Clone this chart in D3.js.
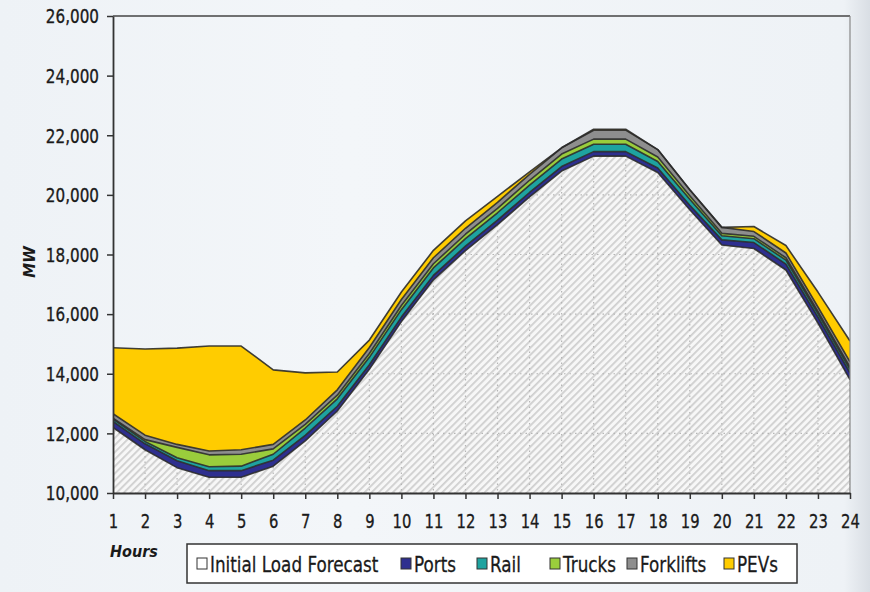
<!DOCTYPE html>
<html>
<head>
<meta charset="utf-8">
<script src="https://cdn.jsdelivr.net/npm/d3@7"></script>
<style>
  html, body { margin: 0; padding: 0; background: #eef2f6; }
  svg { display: block; }
  text { font-family: "DejaVu Sans", Verdana, sans-serif; fill: #1a1a1a; }
</style>
</head>
<body>
<svg id="chart" width="870" height="592"></svg>
<script>
// ---------- data ----------
const hours = [1,2,3,4,5,6,7,8,9,10,11,12,13,14,15,16,17,18,19,20,21,22,23,24];
const yTicks = [10000,12000,14000,16000,18000,20000,22000,24000,26000];
const seriesNames = ["Initial Load Forecast","Ports","Rail","Trucks","Forklifts","PEVs"];
const initialLoad = [12200,11450,10850,10530,10530,10900,11750,12750,14150,15750,17150,18130,19000,19930,20800,21300,21300,20750,19500,18320,18200,17480,15700,13800];
const ports       = [200,200,230,220,220,200,180,160,150,150,150,150,150,150,150,150,150,150,150,170,200,200,200,230];
const rail        = [80,80,100,130,150,200,250,250,250,250,250,250,250,250,250,250,250,220,200,140,130,130,120,120];
const trucks      = [30,60,350,400,400,180,120,120,130,140,140,150,150,160,170,170,170,150,120,80,80,80,70,70];
const forklifts   = [150,150,100,130,150,150,150,180,200,200,200,200,200,200,210,300,300,250,200,200,160,160,150,180];
const pevs        = [2210,2890,3230,3520,3480,2500,1580,600,250,250,250,250,200,80,0,30,30,0,0,0,170,250,500,700];

const colors = ["url(#hatch)","#2e2f8f","#1ea3a0","#9acd3c","#8e8e8e","#ffcc00"];
const swatchColors = ["#ffffff","#2e2f8f","#1ea3a0","#9acd3c","#8e8e8e","#ffcc00"];

(function () {
// ---------- build table ----------
const seriesArrays = [initialLoad, ports, rail, trucks, forklifts, pevs];
const table = hours.map((h, i) => {
  const row = { hour: h };
  seriesNames.forEach((k, j) => row[k] = seriesArrays[j][i]);
  return row;
});

const svg = d3.select("#chart");
const pL = 113, pR = 850, pT = 16, pB = 493;
const x = d3.scaleLinear().domain([1, 24]).range([pL, pR]);
const y = d3.scaleLinear().domain([10000, 26000]).range([pB, pT]);
const SX = 0.8; // horizontal compression of text

// background
const defs = svg.append("defs");
const bg = defs.append("linearGradient").attr("id","bg").attr("x1","0").attr("x2","1").attr("y1","0").attr("y2","0");
bg.append("stop").attr("offset","0%").attr("stop-color","#eef2f6");
bg.append("stop").attr("offset","40%").attr("stop-color","#f3f6f9");
bg.append("stop").attr("offset","97%").attr("stop-color","#eef2f6");
bg.append("stop").attr("offset","100%").attr("stop-color","#d9dee4");
svg.append("rect").attr("width",870).attr("height",592).attr("fill","url(#bg)");

// hatch pattern
const pat = defs.append("pattern").attr("id","hatch").attr("patternUnits","userSpaceOnUse")
  .attr("width",5).attr("height",5).attr("patternTransform","rotate(45)");
pat.append("rect").attr("width",5).attr("height",5).attr("fill","#f7f7f7");
pat.append("rect").attr("x",0).attr("y",0).attr("width",1.8).attr("height",5).attr("fill","#cfcfcf");

// stack
const stack = d3.stack().keys(seriesNames);
const layers = stack(table);

const area = d3.area()
  .x(d => x(d.data.hour))
  .y0(d => y(d[0]))
  .y1(d => y(d[1]));
const topLine = d3.line().x(d => x(d.data.hour)).y(d => y(d[1]));

// clip for plot
defs.append("clipPath").attr("id","plotclip").append("rect")
  .attr("x",pL).attr("y",pT).attr("width",pR-pL).attr("height",pB-pT);

// clip for grid inside initial-load area
const initArea = d3.area().x(d => x(d.data.hour)).y0(pB).y1(d => y(d[1]));
defs.append("clipPath").attr("id","initclip").append("path").attr("d", initArea(layers[0]));

const plot = svg.append("g").attr("clip-path","url(#plotclip)");

plot.selectAll("path.layer").data(layers).join("path")
  .attr("class","layer")
  .attr("d", (d) => area(d))
  .attr("fill", (d, i) => colors[i]);

// dotted gridlines visible only through the hatched area
const grid = plot.append("g").attr("clip-path","url(#initclip)");
grid.selectAll("line.h").data(yTicks).join("line")
  .attr("x1",pL).attr("x2",pR).attr("y1",d=>y(d)).attr("y2",d=>y(d))
  .attr("stroke","#b5b5b5").attr("stroke-width",1.2).attr("stroke-dasharray","1.5,4");
grid.selectAll("line.v").data(hours).join("line")
  .attr("x1",d=>x(d)).attr("x2",d=>x(d)).attr("y1",pT).attr("y2",pB)
  .attr("stroke","#b5b5b5").attr("stroke-width",1.2).attr("stroke-dasharray","1.5,4");

// outlines of each layer's top
plot.selectAll("path.outline").data(layers).join("path")
  .attr("class","outline")
  .attr("d", d => topLine(d))
  .attr("fill","none")
  .attr("stroke","#2b2b2b")
  .attr("stroke-width",1.6)
  .attr("stroke-linejoin","round")
  .attr("opacity", 0.9);

// frame: top and right
svg.append("line").attr("x1",pL).attr("x2",pR).attr("y1",pT).attr("y2",pT)
  .attr("stroke","#444").attr("stroke-width",1.5);
svg.append("line").attr("x1",pR).attr("x2",pR).attr("y1",pT).attr("y2",pB)
  .attr("stroke","#888").attr("stroke-width",1.2);

// y axis
const yAxis = svg.append("g").attr("transform",`translate(${pL},0)`)
  .call(d3.axisLeft(y).tickValues(yTicks).tickFormat(d3.format(",")).tickSize(6).tickSizeOuter(0));
yAxis.select(".domain").attr("stroke","#333").attr("stroke-width",1.8);
yAxis.selectAll(".tick line").attr("stroke","#333").attr("stroke-width",1.5);
yAxis.selectAll(".tick text")
  .attr("x", -14 / SX).attr("dy","0.36em")
  .attr("transform",`scale(${SX},1)`)
  .style("font-size","19px").style("fill","#1a1a1a")
  .style("stroke","#1a1a1a").style("stroke-width","0.35px");

// x axis
const XS = 0.74;
const xAxis = svg.append("g").attr("transform",`translate(0,${pB})`)
  .call(d3.axisBottom(x).tickValues(hours).tickFormat(d3.format("d")).tickSize(6).tickSizeOuter(0));
xAxis.select(".domain").attr("stroke","#333").attr("stroke-width",1.8);
xAxis.selectAll(".tick line").attr("stroke","#333").attr("stroke-width",1.5);
xAxis.selectAll(".tick text")
  .attr("y", 28).attr("dy","0.36em")
  .attr("transform",`scale(${XS},1)`)
  .style("font-size","20px").style("fill","#1a1a1a")
  .style("stroke","#1a1a1a").style("stroke-width","0.35px");

// axis titles
svg.append("text").attr("transform","translate(35,262) rotate(-90)")
  .attr("text-anchor","middle").style("font-size","15px").style("font-weight","bold").style("font-style","italic")
  .text("MW");
svg.append("text").attr("transform","translate(110,557) scale(0.9,1)")
  .attr("text-anchor","start").style("font-size","16px").style("font-weight","bold").style("font-style","italic")
  .text("Hours");

// legend
const lg = svg.append("g");
lg.append("rect").attr("x",187).attr("y",544).attr("width",610).attr("height",39)
  .attr("fill","#ffffff").attr("stroke","#333").attr("stroke-width",1.5);
const legendX = [197, 401, 477, 550, 627, 724];
seriesNames.forEach((name, i) => {
  const gx = legendX[i];
  lg.append("rect").attr("x",gx).attr("y",558).attr("width",10).attr("height",11)
    .attr("fill", swatchColors[i]).attr("stroke","#333").attr("stroke-width",1);
  lg.append("text").attr("transform",`translate(${gx+13},572) scale(0.8,1)`)
    .style("font-size","21px").style("stroke","#1a1a1a").style("stroke-width","0.3px").text(name);
});
})();
</script>
</body>
</html>
